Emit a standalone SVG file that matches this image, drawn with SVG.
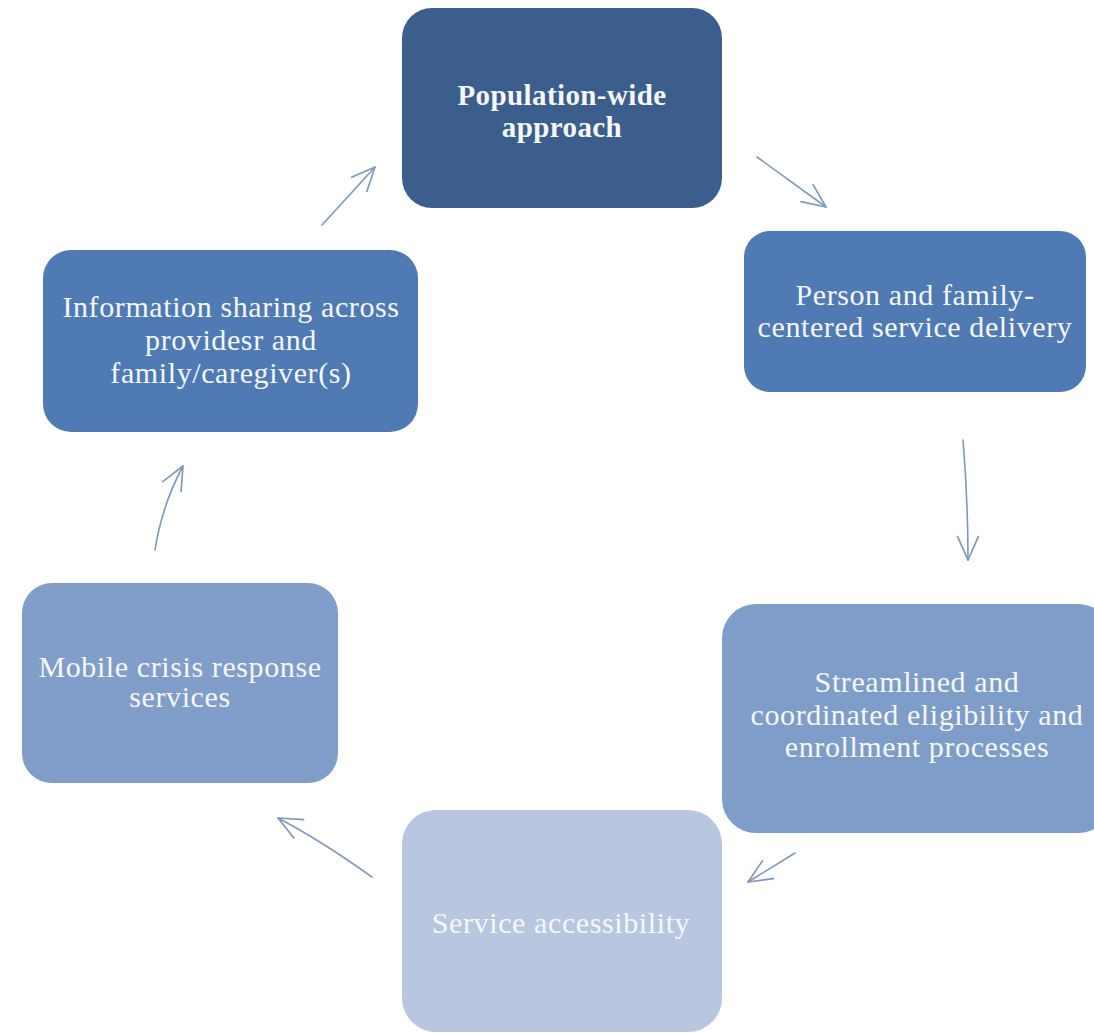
<svg xmlns="http://www.w3.org/2000/svg" width="1094" height="1033" viewBox="0 0 1094 1033">
  <defs>
    <style>
      .box { stroke: none; }
      .lbl { font-family: "Liberation Serif", "Times New Roman", serif; font-size: 30px; fill: #f5f7fb; text-anchor: middle; letter-spacing: 0.6px; }
      .bold { font-weight: bold; font-size: 29px; letter-spacing: 0.4px; }
      .arrow { fill: none; stroke: #8197ba; stroke-width: 1.6; stroke-linecap: round; marker-end: url(#head); }
    </style>
    <marker id="head" viewBox="0 0 20 20" refX="19" refY="10" markerWidth="26" markerHeight="26" markerUnits="userSpaceOnUse" orient="auto">
      <path d="M1,2 L19,10 L1,18" fill="none" stroke="#8197ba" stroke-width="1.3" stroke-linecap="round" stroke-linejoin="round"/>
    </marker>
  </defs>

  <rect width="1094" height="1033" fill="#ffffff"/>

  <!-- connectors around the cycle -->
  <g id="connectors">
    <path class="arrow" d="M322,225 L375,167"/>
    <path class="arrow" d="M757,157 L826,207"/>
    <path class="arrow" d="M963,440 Q968,500 968,560"/>
    <path class="arrow" d="M795,853 L748,882"/>
    <path class="arrow" d="M372,877 Q320,840 278,818"/>
    <path class="arrow" d="M155,550 Q162,505 183,466"/>
  </g>

  <g id="node-population">
    <rect class="box" x="402" y="8" width="320" height="200" rx="30" fill="#3b5e8d"/>
    <text class="lbl bold" x="562" y="105">Population-wide</text>
    <text class="lbl bold" x="562" y="137">approach</text>
  </g>

  <g id="node-person">
    <rect class="box" x="744" y="231" width="342" height="161" rx="26" fill="#4f7ab4"/>
    <text class="lbl" x="915" y="305">Person and family-</text>
    <text class="lbl" x="915" y="337">centered service delivery</text>
  </g>

  <g id="node-streamlined">
    <rect class="box" x="722" y="604" width="390" height="229" rx="34" fill="#7f9dc9"/>
    <text class="lbl" x="917" y="692">Streamlined and</text>
    <text class="lbl" x="917" y="725">coordinated eligibility and</text>
    <text class="lbl" x="917" y="757">enrollment processes</text>
  </g>

  <g id="node-accessibility">
    <rect class="box" x="402" y="810" width="320" height="222" rx="34" fill="#b8c6df"/>
    <text class="lbl" x="561" y="933">Service accessibility</text>
  </g>

  <g id="node-mobile">
    <rect class="box" x="22" y="583" width="316" height="200" rx="30" fill="#809ec9"/>
    <text class="lbl" x="180" y="677">Mobile crisis response</text>
    <text class="lbl" x="180" y="707">services</text>
  </g>

  <g id="node-information">
    <rect class="box" x="43" y="250" width="375" height="182" rx="28" fill="#4f7ab4"/>
    <text class="lbl" x="231" y="317">Information sharing across</text>
    <text class="lbl" x="231" y="350">providesr and</text>
    <text class="lbl" x="231" y="383">family/caregiver(s)</text>
  </g>
</svg>
